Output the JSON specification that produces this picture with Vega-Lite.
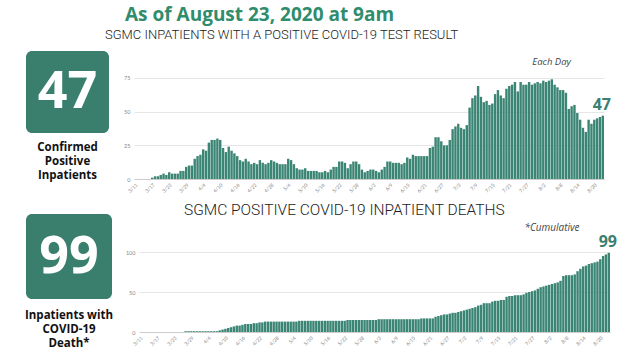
{
  "$schema": "https://vega.github.io/schema/vega-lite/v6.json",
  "background": "white",
  "padding": {"left": 24, "top": 6, "right": 2, "bottom": 0},
  "title": {"text": "As of August 23, 2020 at 9am", "anchor": "start", "frame": "group", "dx": 99, "fontSize": 19, "font": "Open Sans", "fontWeight": "bold", "color": "#2f8c6c", "offset": 4},
  "config": {
    "view": {"stroke": null},
    "axis": {"labelFont": "Lato", "labelColor": "#888", "labelFontSize": 5.5, "title": null}
  },
  "datasets": {
    "days": [
      {"date":"3/11","positive":0,"deaths":0},{"date":"3/12","positive":0,"deaths":0},{"date":"3/13","positive":0,"deaths":0},{"date":"3/14","positive":0,"deaths":0},{"date":"3/15","positive":0,"deaths":0},{"date":"3/16","positive":0,"deaths":0},
      {"date":"3/17","positive":1,"deaths":0},{"date":"3/18","positive":2,"deaths":0},{"date":"3/19","positive":2,"deaths":0},{"date":"3/20","positive":3,"deaths":0},{"date":"3/21","positive":4,"deaths":0},{"date":"3/22","positive":3,"deaths":0},{"date":"3/23","positive":5,"deaths":0},{"date":"3/24","positive":4,"deaths":0},{"date":"3/25","positive":4,"deaths":0},{"date":"3/26","positive":4,"deaths":0},
      {"date":"3/27","positive":6,"deaths":1},{"date":"3/28","positive":6,"deaths":1},{"date":"3/29","positive":9,"deaths":1},{"date":"3/30","positive":10,"deaths":1},{"date":"3/31","positive":10,"deaths":1},{"date":"4/1","positive":15,"deaths":1},{"date":"4/2","positive":17,"deaths":1},{"date":"4/3","positive":18,"deaths":1},{"date":"4/4","positive":22,"deaths":1},{"date":"4/5","positive":21,"deaths":1},
      {"date":"4/6","positive":27,"deaths":1},{"date":"4/7","positive":29,"deaths":1},{"date":"4/8","positive":29,"deaths":2},{"date":"4/9","positive":30,"deaths":3},{"date":"4/10","positive":29,"deaths":4},{"date":"4/11","positive":23,"deaths":5},{"date":"4/12","positive":20,"deaths":6},{"date":"4/13","positive":24,"deaths":7},{"date":"4/14","positive":21,"deaths":8},{"date":"4/15","positive":19,"deaths":8},
      {"date":"4/16","positive":17,"deaths":9},{"date":"4/17","positive":14,"deaths":10},{"date":"4/18","positive":13,"deaths":10},{"date":"4/19","positive":15,"deaths":10},{"date":"4/20","positive":13,"deaths":11},{"date":"4/21","positive":11,"deaths":11},{"date":"4/22","positive":12,"deaths":12},{"date":"4/23","positive":11,"deaths":12},{"date":"4/24","positive":14,"deaths":13},{"date":"4/25","positive":12,"deaths":13},
      {"date":"4/26","positive":11,"deaths":13},{"date":"4/27","positive":12,"deaths":13},{"date":"4/28","positive":14,"deaths":13},{"date":"4/29","positive":13,"deaths":13},{"date":"4/30","positive":12,"deaths":13},{"date":"5/1","positive":11,"deaths":13},{"date":"5/2","positive":11,"deaths":13},{"date":"5/3","positive":11,"deaths":13},{"date":"5/4","positive":15,"deaths":13},{"date":"5/5","positive":14,"deaths":13},
      {"date":"5/6","positive":11,"deaths":14},{"date":"5/7","positive":8,"deaths":14},{"date":"5/8","positive":7,"deaths":14},{"date":"5/9","positive":7,"deaths":14},{"date":"5/10","positive":8,"deaths":14},{"date":"5/11","positive":6,"deaths":14},{"date":"5/12","positive":6,"deaths":14},{"date":"5/13","positive":6,"deaths":14},{"date":"5/14","positive":6,"deaths":14},{"date":"5/15","positive":5,"deaths":14},
      {"date":"5/16","positive":5,"deaths":14},{"date":"5/17","positive":6,"deaths":14},{"date":"5/18","positive":5,"deaths":14},{"date":"5/19","positive":7,"deaths":14},{"date":"5/20","positive":9,"deaths":14},{"date":"5/21","positive":9,"deaths":14},{"date":"5/22","positive":13,"deaths":14},{"date":"5/23","positive":13,"deaths":15},{"date":"5/24","positive":12,"deaths":15},{"date":"5/25","positive":8,"deaths":15},
      {"date":"5/26","positive":11,"deaths":15},{"date":"5/27","positive":13,"deaths":15},{"date":"5/28","positive":13,"deaths":15},{"date":"5/29","positive":11,"deaths":15},{"date":"5/30","positive":7,"deaths":15},{"date":"5/31","positive":5,"deaths":15},{"date":"6/1","positive":6,"deaths":15},{"date":"6/2","positive":7,"deaths":15},
      {"date":"6/3","positive":7,"deaths":16},{"date":"6/4","positive":6,"deaths":16},{"date":"6/5","positive":5,"deaths":16},{"date":"6/6","positive":7,"deaths":16},{"date":"6/7","positive":9,"deaths":16},{"date":"6/8","positive":13,"deaths":16},{"date":"6/9","positive":13,"deaths":16},{"date":"6/10","positive":12,"deaths":16},{"date":"6/11","positive":12,"deaths":16},{"date":"6/12","positive":12,"deaths":16},
      {"date":"6/13","positive":11,"deaths":16},{"date":"6/14","positive":12,"deaths":16},{"date":"6/15","positive":16,"deaths":16},{"date":"6/16","positive":15,"deaths":16},{"date":"6/17","positive":18,"deaths":16},{"date":"6/18","positive":17,"deaths":17},{"date":"6/19","positive":17,"deaths":17},{"date":"6/20","positive":17,"deaths":17},{"date":"6/21","positive":17,"deaths":17},{"date":"6/22","positive":17,"deaths":17},
      {"date":"6/23","positive":23,"deaths":19},{"date":"6/24","positive":24,"deaths":20},{"date":"6/25","positive":31,"deaths":21},{"date":"6/26","positive":31,"deaths":22},{"date":"6/27","positive":28,"deaths":22},{"date":"6/28","positive":25,"deaths":23},{"date":"6/29","positive":25,"deaths":24},{"date":"6/30","positive":29,"deaths":24},
      {"date":"7/1","positive":37,"deaths":25},{"date":"7/2","positive":39,"deaths":26},{"date":"7/3","positive":41,"deaths":27},{"date":"7/4","positive":38,"deaths":28},{"date":"7/5","positive":37,"deaths":29},{"date":"7/6","positive":40,"deaths":30},{"date":"7/7","positive":53,"deaths":31},{"date":"7/8","positive":60,"deaths":33},{"date":"7/9","positive":62,"deaths":34},{"date":"7/10","positive":69,"deaths":36},
      {"date":"7/11","positive":61,"deaths":36},{"date":"7/12","positive":57,"deaths":36},{"date":"7/13","positive":58,"deaths":38},{"date":"7/14","positive":55,"deaths":39},{"date":"7/15","positive":56,"deaths":39},{"date":"7/16","positive":63,"deaths":40},{"date":"7/17","positive":66,"deaths":40},{"date":"7/18","positive":62,"deaths":44},{"date":"7/19","positive":60,"deaths":45},{"date":"7/20","positive":67,"deaths":45},
      {"date":"7/21","positive":69,"deaths":46},{"date":"7/22","positive":70,"deaths":46},{"date":"7/23","positive":72,"deaths":46},{"date":"7/24","positive":65,"deaths":47},{"date":"7/25","positive":72,"deaths":49},{"date":"7/26","positive":70,"deaths":50},{"date":"7/27","positive":70,"deaths":51},{"date":"7/28","positive":72,"deaths":52},{"date":"7/29","positive":70,"deaths":54},{"date":"7/30","positive":71,"deaths":56},
      {"date":"7/31","positive":72,"deaths":57},{"date":"8/1","positive":71,"deaths":58},{"date":"8/2","positive":73,"deaths":59},{"date":"8/3","positive":72,"deaths":60},{"date":"8/4","positive":73,"deaths":61},{"date":"8/5","positive":74,"deaths":62},{"date":"8/6","positive":70,"deaths":64},{"date":"8/7","positive":68,"deaths":70},{"date":"8/8","positive":66,"deaths":71},{"date":"8/9","positive":66,"deaths":71},
      {"date":"8/10","positive":64,"deaths":71},{"date":"8/11","positive":52,"deaths":72},{"date":"8/12","positive":54,"deaths":76},{"date":"8/13","positive":55,"deaths":79},{"date":"8/14","positive":49,"deaths":82},{"date":"8/15","positive":44,"deaths":83},{"date":"8/16","positive":38,"deaths":85},{"date":"8/17","positive":35,"deaths":86},{"date":"8/18","positive":44,"deaths":87},{"date":"8/19","positive":41,"deaths":88},
      {"date":"8/20","positive":44,"deaths":91},{"date":"8/21","positive":45,"deaths":95},{"date":"8/22","positive":46,"deaths":97},{"date":"8/23","positive":47,"deaths":99}
    ]
  },
  "spacing": 8,
  "vconcat": [
    {
      "bounds": "flush",
      "spacing": 25,
      "hconcat": [
        {
          "data": {"name": "days"},
          "transform": [{"filter": "datum.date === '8/23'"}],
          "width": 83,
          "height": 82,
          "view": {"fill": "#3a7e6e", "stroke": null, "cornerRadius": 6},
          "title": {"text": ["Confirmed", "Positive", "Inpatients"], "orient": "bottom", "anchor": "middle", "fontSize": 11.5, "font": "Open Sans", "fontWeight": "bold", "color": "#111", "lineHeight": 14, "offset": 9},
          "mark": {"type": "text", "fontSize": 52, "font": "Open Sans", "fontWeight": "bold", "color": "white"},
          "encoding": {"text": {"field": "positive", "type": "quantitative"}}
        },
        {
          "data": {"name": "days"},
          "width": 470,
          "height": 128,
          "title": {"text": "SGMC INPATIENTS WITH A POSITIVE COVID-19 TEST RESULT", "anchor": "start", "frame": "group", "dx": -29, "offset": 9, "fontSize": 13, "font": "Roboto", "fontWeight": 300, "color": "#222"},
          "encoding": {
            "x": {"field": "date", "type": "ordinal", "sort": null, "scale": {"paddingInner": 0.15, "paddingOuter": 0},
              "axis": {"values": ["3/11","3/17","3/23","3/29","4/4","4/10","4/16","4/22","4/28","5/4","5/10","5/16","5/22","5/28","6/3","6/9","6/15","6/21","6/27","7/3","7/9","7/15","7/21","7/27","8/2","8/8","8/14","8/20"], "labelAngle": -45, "ticks": false, "domainColor": "#ccc", "labelPadding": 3, "labelFontSize": 5}}
          },
          "layer": [
            {
              "mark": {"type": "bar", "color": "#3b8574"},
              "encoding": {"y": {"field": "positive", "type": "quantitative", "scale": {"domain": [0, 95], "nice": false}, "axis": {"values": [0, 25, 50, 75], "domain": false, "ticks": false, "labelPadding": 4, "gridColor": "#e6e6e6"}}}
            },
            {
              "transform": [{"filter": "datum.date === '8/23'"}],
              "mark": {"type": "text", "dy": -11, "dx": -1, "fontSize": 16, "font": "Open Sans", "fontWeight": "bold", "color": "#3b8070"},
              "encoding": {"y": {"field": "positive", "type": "quantitative"}, "text": {"field": "positive", "type": "quantitative"}}
            },
            {
              "transform": [{"filter": "datum.date === '8/6'"}],
              "mark": {"type": "text", "fontSize": 9.5, "font": "Open Sans", "fontStyle": "italic", "color": "#444", "dx": -3},
              "encoding": {"y": {"datum": 87}, "text": {"value": "Each Day"}}
            }
          ]
        }
      ]
    },
    {
      "bounds": "flush",
      "spacing": 27,
      "hconcat": [
        {
          "data": {"name": "days"},
          "transform": [{"filter": "datum.date === '8/23'"}],
          "width": 86,
          "height": 85,
          "view": {"fill": "#3a7e6e", "stroke": null, "cornerRadius": 6},
          "title": {"text": ["Inpatients with", "COVID-19", "Death*"], "orient": "bottom", "anchor": "middle", "fontSize": 11.5, "font": "Open Sans", "fontWeight": "bold", "color": "#111", "lineHeight": 14, "offset": 11},
          "mark": {"type": "text", "fontSize": 52, "font": "Open Sans", "fontWeight": "bold", "color": "white"},
          "encoding": {"text": {"field": "deaths", "type": "quantitative"}}
        },
        {
          "data": {"name": "days"},
          "width": 471,
          "height": 118,
          "title": {"text": "SGMC POSITIVE COVID-19 INPATIENT DEATHS", "anchor": "start", "frame": "group", "dx": 45, "offset": -4, "fontSize": 15.5, "font": "Roboto", "fontWeight": 300, "color": "#222"},
          "encoding": {
            "x": {"field": "date", "type": "ordinal", "sort": null, "scale": {"paddingInner": 0.15, "paddingOuter": 0},
              "axis": {"values": ["3/11","3/17","3/23","3/29","4/4","4/10","4/16","4/22","4/28","5/4","5/10","5/16","5/22","5/28","6/3","6/9","6/15","6/21","6/27","7/3","7/9","7/15","7/21","7/27","8/2","8/8","8/14","8/20"], "labelAngle": -45, "ticks": false, "domainColor": "#ccc", "labelPadding": 3, "labelFontSize": 5}}
          },
          "layer": [
            {
              "mark": {"type": "bar", "color": "#3b8574"},
              "encoding": {"y": {"field": "deaths", "type": "quantitative", "scale": {"domain": [0, 147.5], "nice": false}, "axis": {"values": [0, 25, 50, 75, 100], "domain": false, "ticks": false, "labelPadding": 4, "gridColor": "#e6e6e6"}}}
            },
            {
              "transform": [{"filter": "datum.date === '8/23'"}],
              "mark": {"type": "text", "dy": -11, "dx": -1, "fontSize": 16, "font": "Open Sans", "fontWeight": "bold", "color": "#3b8070"},
              "encoding": {"y": {"field": "deaths", "type": "quantitative"}, "text": {"field": "deaths", "type": "quantitative"}}
            },
            {
              "transform": [{"filter": "datum.date === '8/3'"}],
              "mark": {"type": "text", "fontSize": 10, "font": "Open Sans", "fontStyle": "italic", "color": "#444"},
              "encoding": {"y": {"datum": 130}, "text": {"value": "*Cumulative"}}
            }
          ]
        }
      ]
    }
  ]
}
